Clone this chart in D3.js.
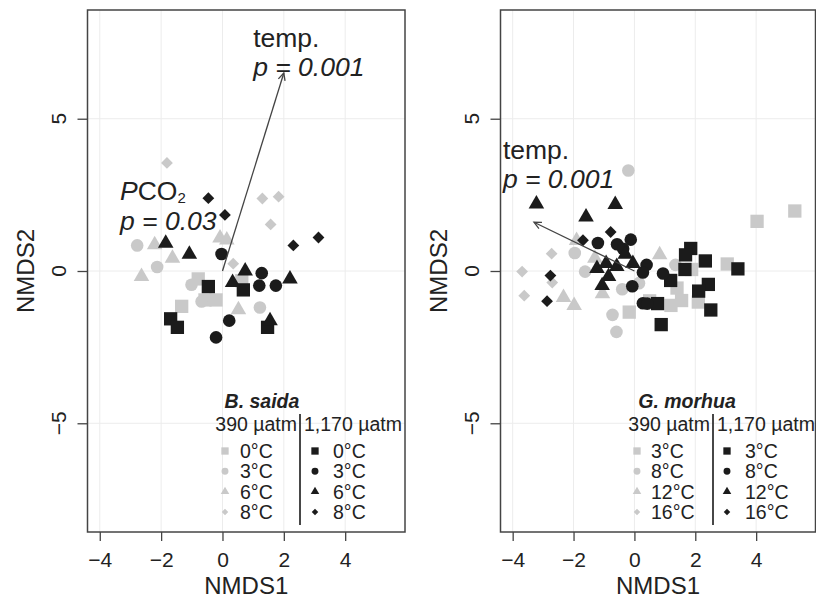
<!DOCTYPE html>
<meta charset="utf-8">
<head>
  <title>NMDS plots</title>
  <script src="https://cdn.jsdelivr.net/npm/d3@7"></script>
</head>
<style>
  body { margin: 0; background: #fff; }
  text { font-family: "Liberation Sans", Arial, Helvetica, sans-serif; fill: #222; }
</style>
<body>
<svg width="816" height="608"></svg>
<script>
// ---- data (NMDS1, NMDS2) ----
var xTicks = [-4, -2, 0, 2, 4];
var yTicks = [-5, 0, 5];

// B. saida
var saidaTemps = ["0°C", "3°C", "6°C", "8°C"];
var saida390_0C = [[-0.79,-0.26],[-1.33,-1.16],[-0.57,-0.95],[-0.21,-0.95],[0.63,-0.32]];
var saida390_3C = [[-2.78,0.84],[-2.13,0.13],[-1.01,-0.45],[-0.68,-1.0],[1.22,-1.2]];
var saida390_6C = [[-2.64,-0.18],[-2.21,0.86],[-1.63,0.42],[-0.08,1.08],[0.14,1.02],[0.52,-1.27]];
var saida390_8C = [[-1.81,3.55],[1.30,2.38],[1.83,2.44],[1.57,1.53],[0.35,0.24]];
var saida1170_0C = [[-0.46,-0.51],[0.68,-0.62],[-1.69,-1.57],[-1.47,-1.85],[1.47,-1.85]];
var saida1170_3C = [[-0.03,0.56],[1.28,-0.07],[1.20,-0.48],[1.74,-0.48],[0.22,-1.63],[-0.21,-2.18]];
var saida1170_6C = [[-1.85,0.91],[-1.08,0.55],[0.74,0.0],[0.33,-0.38],[2.2,-0.26],[1.55,-1.63]];
var saida1170_8C = [[-0.46,2.39],[0.08,1.84],[2.31,0.84],[3.13,1.10]];
var saidaTempVector = [2.0, 6.5];

// G. morhua
var morhuaTemps = ["3°C", "8°C", "12°C", "16°C"];
var morhua390_3C = [[4.03,1.63],[5.27,1.97],[3.05,0.23],[1.88,0.05],[1.40,-0.56],[1.55,-0.97],[1.20,-1.13],[2.10,-1.02],[-0.17,-1.35],[0.50,-0.98]];
var morhua390_8C = [[-0.20,3.30],[-1.96,0.59],[-1.62,-0.02],[-0.72,-1.44],[-0.59,-2.0],[-0.40,-0.60],[1.35,0.20],[0.15,-0.40]];
var morhua390_12C = [[-2.33,-0.87],[-1.98,-1.13],[0.83,0.53],[-1.30,0.42],[-1.05,-0.75],[-1.90,1.0]];
var morhua390_16C = [[-2.72,0.57],[-3.69,-0.02],[-3.62,-0.81],[-2.70,-0.38]];
var morhua1170_3C = [[1.85,0.74],[1.68,0.53],[2.33,0.33],[1.66,0.05],[3.40,0.07],[1.19,-0.31],[2.43,-0.44],[2.11,-0.66],[2.51,-1.28],[0.76,-1.07],[0.88,-1.76]];
var morhua1170_8C = [[-1.20,0.92],[-0.57,0.88],[-0.12,1.03],[-0.37,0.73],[0.40,0.20],[0.28,-0.05],[-0.07,-0.50],[0.94,-0.08],[0.28,-1.06],[0.42,-1.07]];
var morhua1170_12C = [[-3.22,2.20],[-1.59,1.77],[-0.63,2.18],[-1.23,0.08],[-0.93,0.25],[-0.58,0.15],[-1.06,-0.48],[-0.85,-0.18],[-0.30,0.55],[-0.05,0.25]];
var morhua1170_16C = [[-1.69,1.01],[-0.78,1.28],[-2.76,-0.15],[-2.87,-0.99]];
var morhuaTempVector = [-3.3, 1.6];

var GREY = "#c9c9c9", BLACK = "#1b1b1b";
var shapes = ["square", "circle", "triangle", "diamond"];

// symbol path, k scales size (legend uses smaller)
function symPath(shape, k) {
  if (shape == "square") return d3.symbol(d3.symbolSquare, 177 * k * k)();
  if (shape == "circle") return d3.symbol(d3.symbolCircle, 125 * k * k)();
  if (shape == "triangle") return d3.symbol(d3.symbolTriangle, 105 * k * k)();
  // diamond = square turned 45deg
  var h = 5.9 * k;
  return "M0," + (-h) + "L" + h + ",0L0," + h + "L" + (-h) + ",0Z";
}

function fmt(d) { return d < 0 ? "\u2212" + Math.abs(d) : d; }

var svg = d3.select("svg");

var panels = [
  {
    left: 87.5, right: 405, top: 10, bottom: 532,
    species: "B. saida", temps: saidaTemps,
    low: [saida390_0C, saida390_3C, saida390_6C, saida390_8C],
    high: [saida1170_0C, saida1170_3C, saida1170_6C, saida1170_8C],
    vec: saidaTempVector,
    tempLabel: [1.0, 7.35, 6.40],
    pco2Label: [-3.34, 2.34, 1.36],
    legend: { title: 262, sep: 300, sym1: 225, txt1: 240, sym2: 315, txt2: 333 }
  },
  {
    left: 500.5, right: 815.5, top: 10, bottom: 532,
    species: "G. morhua", temps: morhuaTemps,
    low: [morhua390_3C, morhua390_8C, morhua390_12C, morhua390_16C],
    high: [morhua1170_3C, morhua1170_8C, morhua1170_12C, morhua1170_16C],
    vec: morhuaTempVector,
    tempLabel: [-4.32, 3.67, 2.72],
    pco2Label: null,
    legend: { title: 687, sep: 713, sym1: 637, txt1: 651, sym2: 727, txt2: 745 }
  }
];

panels.forEach(function(p) {
  var x = d3.scaleLinear().domain([-4.4, 5.95]).range([p.left, p.right]);
  var y = d3.scaleLinear().domain([-8.57, 8.57]).range([p.bottom, p.top]);
  var g = svg.append("g");

  // grid
  g.selectAll(".vg").data(xTicks).enter().append("line")
    .attr("x1", d => x(d)).attr("x2", d => x(d))
    .attr("y1", p.top).attr("y2", p.bottom)
    .style("stroke", "#ececec").style("stroke-width", 1);
  g.selectAll(".hg").data(yTicks).enter().append("line")
    .attr("y1", d => y(d)).attr("y2", d => y(d))
    .attr("x1", p.left).attr("x2", p.right)
    .style("stroke", "#ececec").style("stroke-width", 1);

  // axes
  var xAxis = d3.axisBottom(x).tickValues(xTicks).tickSize(9).tickPadding(11).tickFormat(fmt);
  var gx = g.append("g").attr("transform", "translate(0," + p.bottom + ")").call(xAxis);
  gx.select(".domain").remove();
  gx.selectAll("line").style("stroke", "#444").style("stroke-width", 1.3);
  gx.selectAll("text").style("font-size", "21px").style("fill", "#222")
    .style("font-family", "Liberation Sans, Arial, sans-serif");

  var yAxis = d3.axisLeft(y).tickValues(yTicks).tickSize(10).tickFormat("");
  var gy = g.append("g").attr("transform", "translate(" + p.left + ",0)").call(yAxis);
  gy.select(".domain").remove();
  gy.selectAll("line").style("stroke", "#444").style("stroke-width", 1.3);
  // rotated y tick labels, R style
  g.selectAll(".ylab").data(yTicks).enter().append("text")
    .attr("transform", d => "translate(" + (p.left - 22) + "," + y(d) + ") rotate(-90)")
    .attr("text-anchor", "middle")
    .style("font-size", "21px")
    .text(fmt);

  g.append("text")
    .attr("x", (p.left + p.right) / 2).attr("y", 594)
    .attr("text-anchor", "middle").style("font-size", "24px")
    .text("NMDS1");
  g.append("text")
    .attr("transform", "translate(" + (p.left - 54) + "," + ((p.top + p.bottom) / 2) + ") rotate(-90)")
    .attr("text-anchor", "middle").style("font-size", "24px")
    .text("NMDS2");

  // points: grey (390) first, then black (1170)
  [[p.low, GREY], [p.high, BLACK]].forEach(function(set) {
    set[0].forEach(function(pts, i) {
      g.selectAll(null).data(pts).enter().append("path")
        .attr("d", symPath(shapes[i], 1))
        .attr("transform", d => "translate(" + x(d[0]) + "," + y(d[1]) + ")")
        .style("fill", set[1]);
    });
  });

  // envfit arrow for temperature
  var x0 = x(0), y0 = y(0), x1 = x(p.vec[0]), y1 = y(p.vec[1]);
  var ang = Math.atan2(y1 - y0, x1 - x0), L = 8, a = 0.45;
  g.append("line").attr("x1", x0).attr("y1", y0).attr("x2", x1).attr("y2", y1)
    .style("stroke", "#444").style("stroke-width", 1.3);
  g.append("path")
    .attr("d", "M" + (x1 - L * Math.cos(ang - a)) + "," + (y1 - L * Math.sin(ang - a)) +
      "L" + x1 + "," + y1 + "L" + (x1 - L * Math.cos(ang + a)) + "," + (y1 - L * Math.sin(ang + a)))
    .style("fill", "none").style("stroke", "#444").style("stroke-width", 1.3);

  g.append("text").attr("x", x(p.tempLabel[0])).attr("y", y(p.tempLabel[1]))
    .style("font-size", "26.5px").text("temp.");
  g.append("text").attr("x", x(p.tempLabel[0])).attr("y", y(p.tempLabel[2]))
    .style("font-size", "26.5px").style("font-style", "italic").text("p = 0.001");

  if (p.pco2Label) {
    var t = g.append("text").attr("x", x(p.pco2Label[0])).attr("y", y(p.pco2Label[1]))
      .style("font-size", "26.5px");
    t.append("tspan").style("font-style", "italic").text("P");
    t.append("tspan").text("CO");
    t.append("tspan").attr("dy", 3).style("font-size", "15px").text("2");
    g.append("text").attr("x", x(p.pco2Label[0])).attr("y", y(p.pco2Label[2]))
      .style("font-size", "26.5px").style("font-style", "italic").text("p = 0.03");
  }

  // legend
  var lg = p.legend;
  g.append("text").attr("x", lg.title).attr("y", 408).attr("text-anchor", "middle")
    .style("font-size", "19.5px").style("font-weight", "bold").style("font-style", "italic")
    .text(p.species);
  g.append("text").attr("x", lg.sep - 3).attr("y", 431).attr("text-anchor", "end")
    .style("font-size", "19.5px").text("390 \u00b5atm");
  g.append("text").attr("x", lg.sep + 4).attr("y", 431)
    .style("font-size", "19.5px").text("1,170 \u00b5atm");
  g.append("line").attr("x1", lg.sep).attr("x2", lg.sep).attr("y1", 414).attr("y2", 525)
    .style("stroke", "#333").style("stroke-width", 1.8);

  p.temps.forEach(function(tc, i) {
    var by = 458 + i * 20.3;
    g.append("path").attr("d", symPath(shapes[i], 0.55))
      .attr("transform", "translate(" + lg.sym1 + "," + (by - 7) + ")").style("fill", GREY);
    g.append("text").attr("x", lg.txt1).attr("y", by).style("font-size", "19.5px").text(tc);
    g.append("path").attr("d", symPath(shapes[i], 0.55))
      .attr("transform", "translate(" + lg.sym2 + "," + (by - 7) + ")").style("fill", BLACK);
    g.append("text").attr("x", lg.txt2).attr("y", by).style("font-size", "19.5px").text(tc);
  });

  // box
  g.append("rect").attr("x", p.left).attr("y", p.top)
    .attr("width", p.right - p.left).attr("height", p.bottom - p.top)
    .style("fill", "none").style("stroke", "#444").style("stroke-width", 1.5);
});
</script>
</body>
</html>
